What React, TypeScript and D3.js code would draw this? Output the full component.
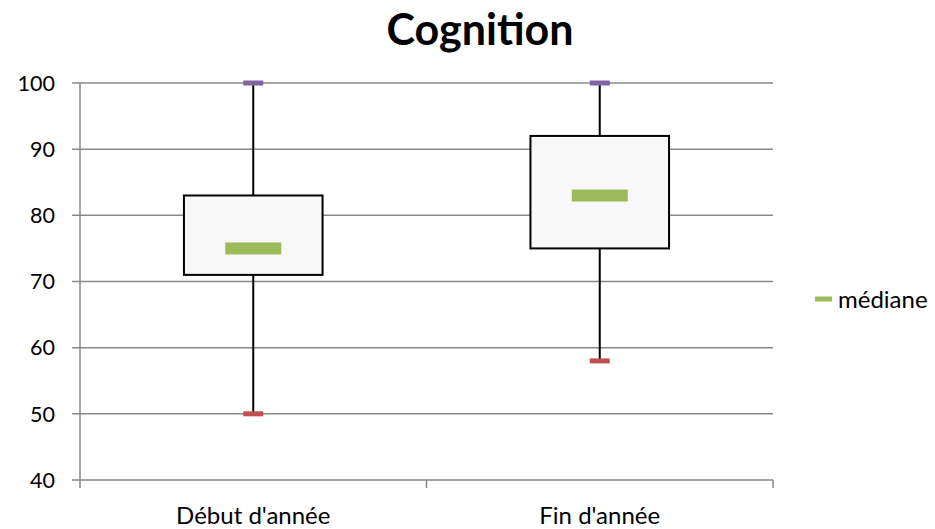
import React from "react";
import * as d3 from "d3";

const categories = ["Début d'année", "Fin d'année"];
const minValues = [50, 58];
const q1Values = [71, 75];
const medianValues = [75, 83];
const q3Values = [83, 92];
const maxValues = [100, 100];
const yTicks = [40, 50, 60, 70, 80, 90, 100];
const title = "Cognition";
const legendLabel = "médiane";

const W = 935, H = 529;
const left = 80, right = 773, top = 83, bottom = 480;
const font = "Lato, 'Open Sans', sans-serif";

export default function App() {
  const x = d3.scaleBand<string>().domain(categories).range([left, right]);
  const y = d3.scaleLinear().domain([40, 100]).range([bottom, top]);
  const bw = x.bandwidth();
  const boxW = bw * 0.4;
  const medW = 56;
  const capW = 20;
  const grid = "#888888";
  return (
    <svg width={W} height={H} style={{ position: "absolute", left: 0, top: 0, background: "#fff" }}>
      <text x={480} y={45} textAnchor="middle" fontFamily={font} fontWeight="bold" fontSize={43} fill="#000">{title}</text>
      {yTicks.map((t) => (
        <g key={t}>
          <line x1={left - 8} x2={right} y1={y(t)} y2={y(t)} stroke={grid} strokeWidth={1.5} />
          <text x={55} y={y(t)} dy="0.36em" textAnchor="end" fontFamily={font} fontSize={21.5} fill="#000">{t}</text>
        </g>
      ))}
      <line x1={left} x2={left} y1={top} y2={bottom + 1} stroke={grid} strokeWidth={1.5} />
      {[...categories.map((c) => x(c) as number), right].map((v, i) => (
        <line key={i} x1={v} x2={v} y1={bottom} y2={bottom + 8} stroke={grid} strokeWidth={1.5} />
      ))}
      {categories.map((c, i) => {
        const cx = (x(c) as number) + bw / 2;
        return (
          <g key={c}>
            <line x1={cx} x2={cx} y1={y(maxValues[i])} y2={y(minValues[i])} stroke="#000" strokeWidth={2} />
            <rect x={cx - boxW / 2} y={y(q3Values[i])} width={boxW} height={y(q1Values[i]) - y(q3Values[i])} fill="#f8f8f8" stroke="#000" strokeWidth={2} />
            <rect x={cx - medW / 2} y={y(medianValues[i]) - 6} width={medW} height={12} fill="#9bbb59" />
            <rect x={cx - capW / 2} y={y(maxValues[i]) - 2.5} width={capW} height={5} fill="#8064a2" />
            <rect x={cx - capW / 2} y={y(minValues[i]) - 2.5} width={capW} height={5} fill="#c0504d" />
            <text x={cx} y={524} textAnchor="middle" fontFamily={font} fontSize={24} fill="#000">{c}</text>
          </g>
        );
      })}
      <line x1={815} x2={832} y1={299} y2={299} stroke="#9bbb59" strokeWidth={5} />
      <text x={838} y={299} dy="0.36em" fontFamily={font} fontSize={24} fill="#000">{legendLabel}</text>
    </svg>
  );
}
